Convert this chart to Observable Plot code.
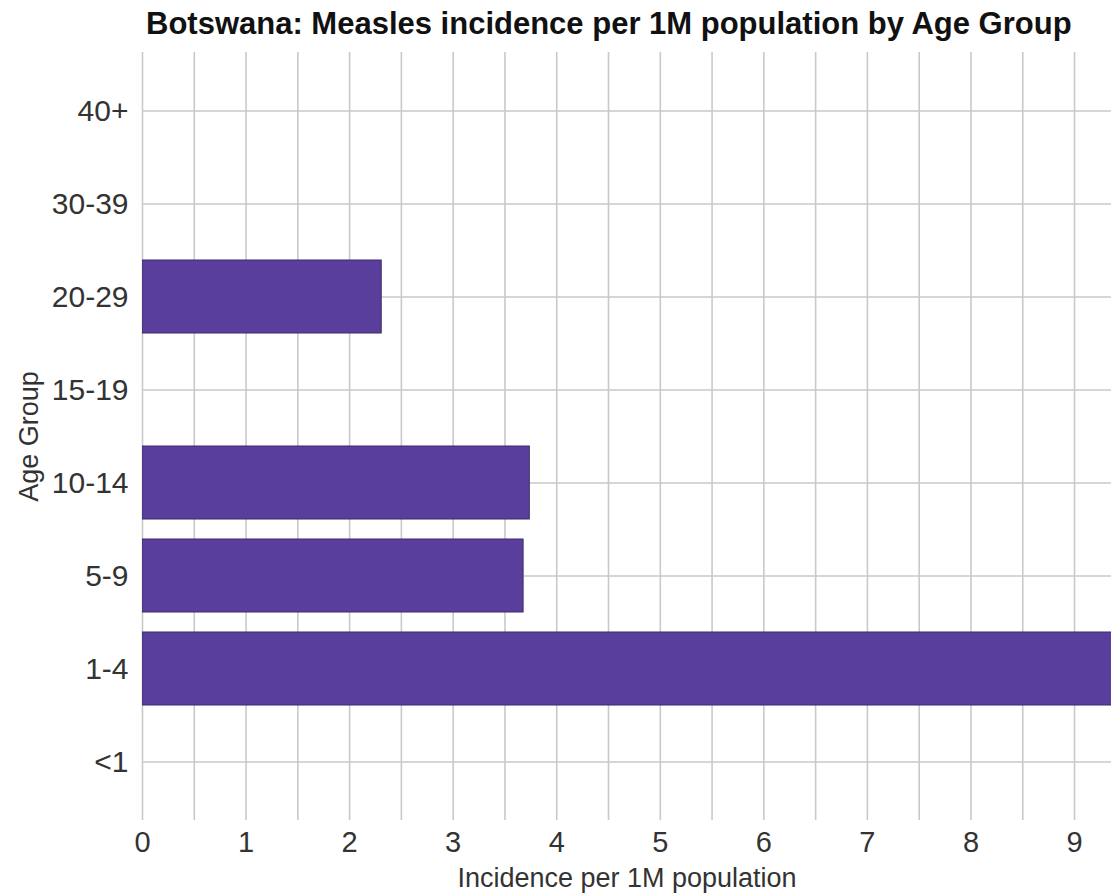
<!DOCTYPE html>
<html>
<head>
<meta charset="utf-8">
<script src="https://cdn.jsdelivr.net/npm/d3@7"></script>
<script src="https://cdn.jsdelivr.net/npm/@observablehq/plot@0.6"></script>
<style>
  html, body { margin: 0; padding: 0; background: #fff; }
  body { width: 1111px; height: 896px; overflow: hidden; position: relative; font-family: "Liberation Sans", Arial, sans-serif; }
  #title { position: absolute; top: 6px; left: 146px; font-weight: bold; font-size: 31px; color: #111; white-space: nowrap; }
  #spacer { height: 40px; }
</style>
</head>
<body>
<div id="title">Botswana: Measles incidence per 1M population by Age Group</div>
<div id="spacer"></div>
<div id="chart"></div>
<script>
const ageGroups = ["40+", "30-39", "20-29", "15-19", "10-14", "5-9", "1-4", "<1"];
const incidence = [0, 0, 2.31, 0, 3.74, 3.68, 9.6, 0];
const xTicks = [0, 1, 2, 3, 4, 5, 6, 7, 8, 9];
const xGrid = d3.range(0, 9.5, 0.5);

const data = ageGroups.map((g, i) => ({group: g, value: incidence[i]})).filter(d => d.value > 0);

const chart = Plot.plot({
  width: 1111,
  height: 856,
  marginTop: 12,
  marginBottom: 76,
  marginLeft: 142,
  marginRight: 0,
  style: {fontFamily: "'Liberation Sans', Arial, sans-serif", fontSize: "28px", color: "#333", background: "#fff"},
  x: {domain: [0, 9.357], ticks: xTicks},
  y: {domain: ageGroups, paddingInner: 0.21, paddingOuter: 0.105, insetTop: 9, insetBottom: 9},
  marks: [
    Plot.ruleX(xGrid, {stroke: "#c9c9c9", strokeWidth: 1.6}),
    Plot.ruleY(ageGroups, {y: d => d, stroke: "#c9c9c9", strokeWidth: 1.6}),
    Plot.barX(data, {x: "value", y: "group", fill: "#5a3e9c", stroke: "#3b2b6b", strokeWidth: 1, clip: true}),
    Plot.axisX({ticks: xTicks, tickSize: 0, tickPadding: 11, fontSize: 29, label: null}),
    Plot.axisX({ticks: [], tickSize: 0, fontSize: 27, label: "Incidence per 1M population", labelAnchor: "center", labelArrow: "none", labelOffset: 66}),
    Plot.axisY({tickSize: 0, tickPadding: 14, fontSize: 30, label: null}),
    Plot.axisY({ticks: [], tickSize: 0, fontSize: 27, label: "Age Group", labelAnchor: "center", labelArrow: "none", labelOffset: 124})
  ]
});
document.getElementById("chart").appendChild(chart);
</script>
</body>
</html>
